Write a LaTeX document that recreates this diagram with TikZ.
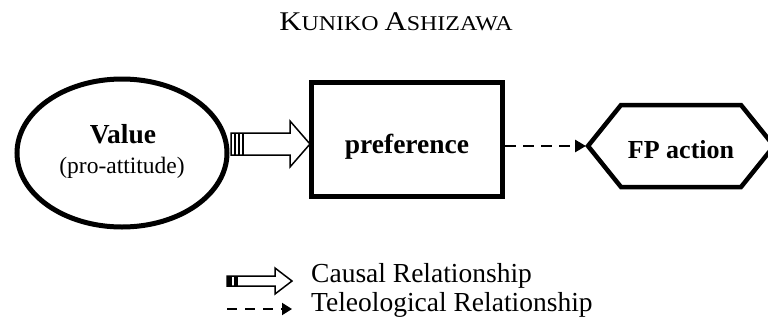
\documentclass[tikz,border=0pt]{standalone}
\usepackage{fontspec}
\setmainfont{Liberation Serif}
\usetikzlibrary{arrows.meta,shapes.geometric}
\newcommand\fsz[1]{\fontsize{#1}{#1}\selectfont}
\tikzset{
  thickbox/.style={draw, line width=5pt, inner sep=0pt},
  hollow/.style={draw, fill=white, line width=1.5pt, line join=miter},
  teleo/.style={line width=2.8pt, dash pattern=on 11pt off 7pt, -{Triangle[length=11pt,width=12pt]}},
  teleosmall/.style={line width=2pt, dash pattern=on 10pt off 8pt, -{Triangle[length=10pt,width=12pt]}},
  legtext/.style={anchor=base west, font=\fsz{27.5}, inner sep=0pt},
  lbl/.style={anchor=base, inner sep=0pt}
}
\begin{document}
\begin{tikzpicture}[x=1pt,y=-1pt]
\useasboundingbox (0,0) rectangle (768,322);
\clip (0,0) rectangle (768,322);
% title
\node[lbl, xscale=1.14, transform shape] (title) at (396,30) {\fsz{27}K\fsz{21}UNIKO \fsz{27}A\fsz{21}SHIZAWA};
% value ellipse
\node[thickbox, ellipse, minimum width=210pt, minimum height=148pt] (val) at (122,153) {};
\node[lbl, font=\fsz{27.5}\bfseries] (valt) at (123,143) {Value};
\node[lbl, font=\fsz{23.5}] (valp) at (122,173) {(pro-attitude)};
% preference box
\node[thickbox, rectangle, minimum width=191pt, minimum height=114pt] (pref) at (407,139.5) {};
\node[lbl, font=\fsz{27.5}\bfseries] (preft) at (407,153) {preference};
% FP action hexagon
\coordinate (fpw) at (586,146);
\draw[line width=4.5pt, line join=miter] (588,146) -- (621,105) -- (741,105) -- (774,146) -- (741,187) -- (621,187) -- cycle;
\node[lbl, font=\fsz{26}\bfseries] (fp) at (681,158) {FP action};
% causal arrow
\draw[hollow] (231,133) -- (290,133) -- (290,121) -- (310,144) -- (290,167) -- (290,155) -- (231,155) -- cycle;
\draw[line width=1.5pt] (235,133) -- (235,155) (239,133) -- (239,155) (243,133) -- (243,155);
% teleological arrow
\coordinate (dstart) at (pref.east |- fpw);
\draw[teleo] (dstart) -- (fpw);
% legend
\draw[hollow] (227,276) -- (275,276) -- (275,268) -- (292,281) -- (275,294) -- (275,286) -- (227,286) -- cycle;
\fill (227,276) rectangle (232,286);
\fill (234,276) rectangle (238,286);
\node[legtext] (lc) at (311,282) {Causal Relationship};
\coordinate (la) at (227,309);
\coordinate (lb) at (292,309);
\draw[teleosmall] (la) -- (lb);
\node[legtext] (lt) at (311,311) {Teleological Relationship};
\end{tikzpicture}
\end{document}
